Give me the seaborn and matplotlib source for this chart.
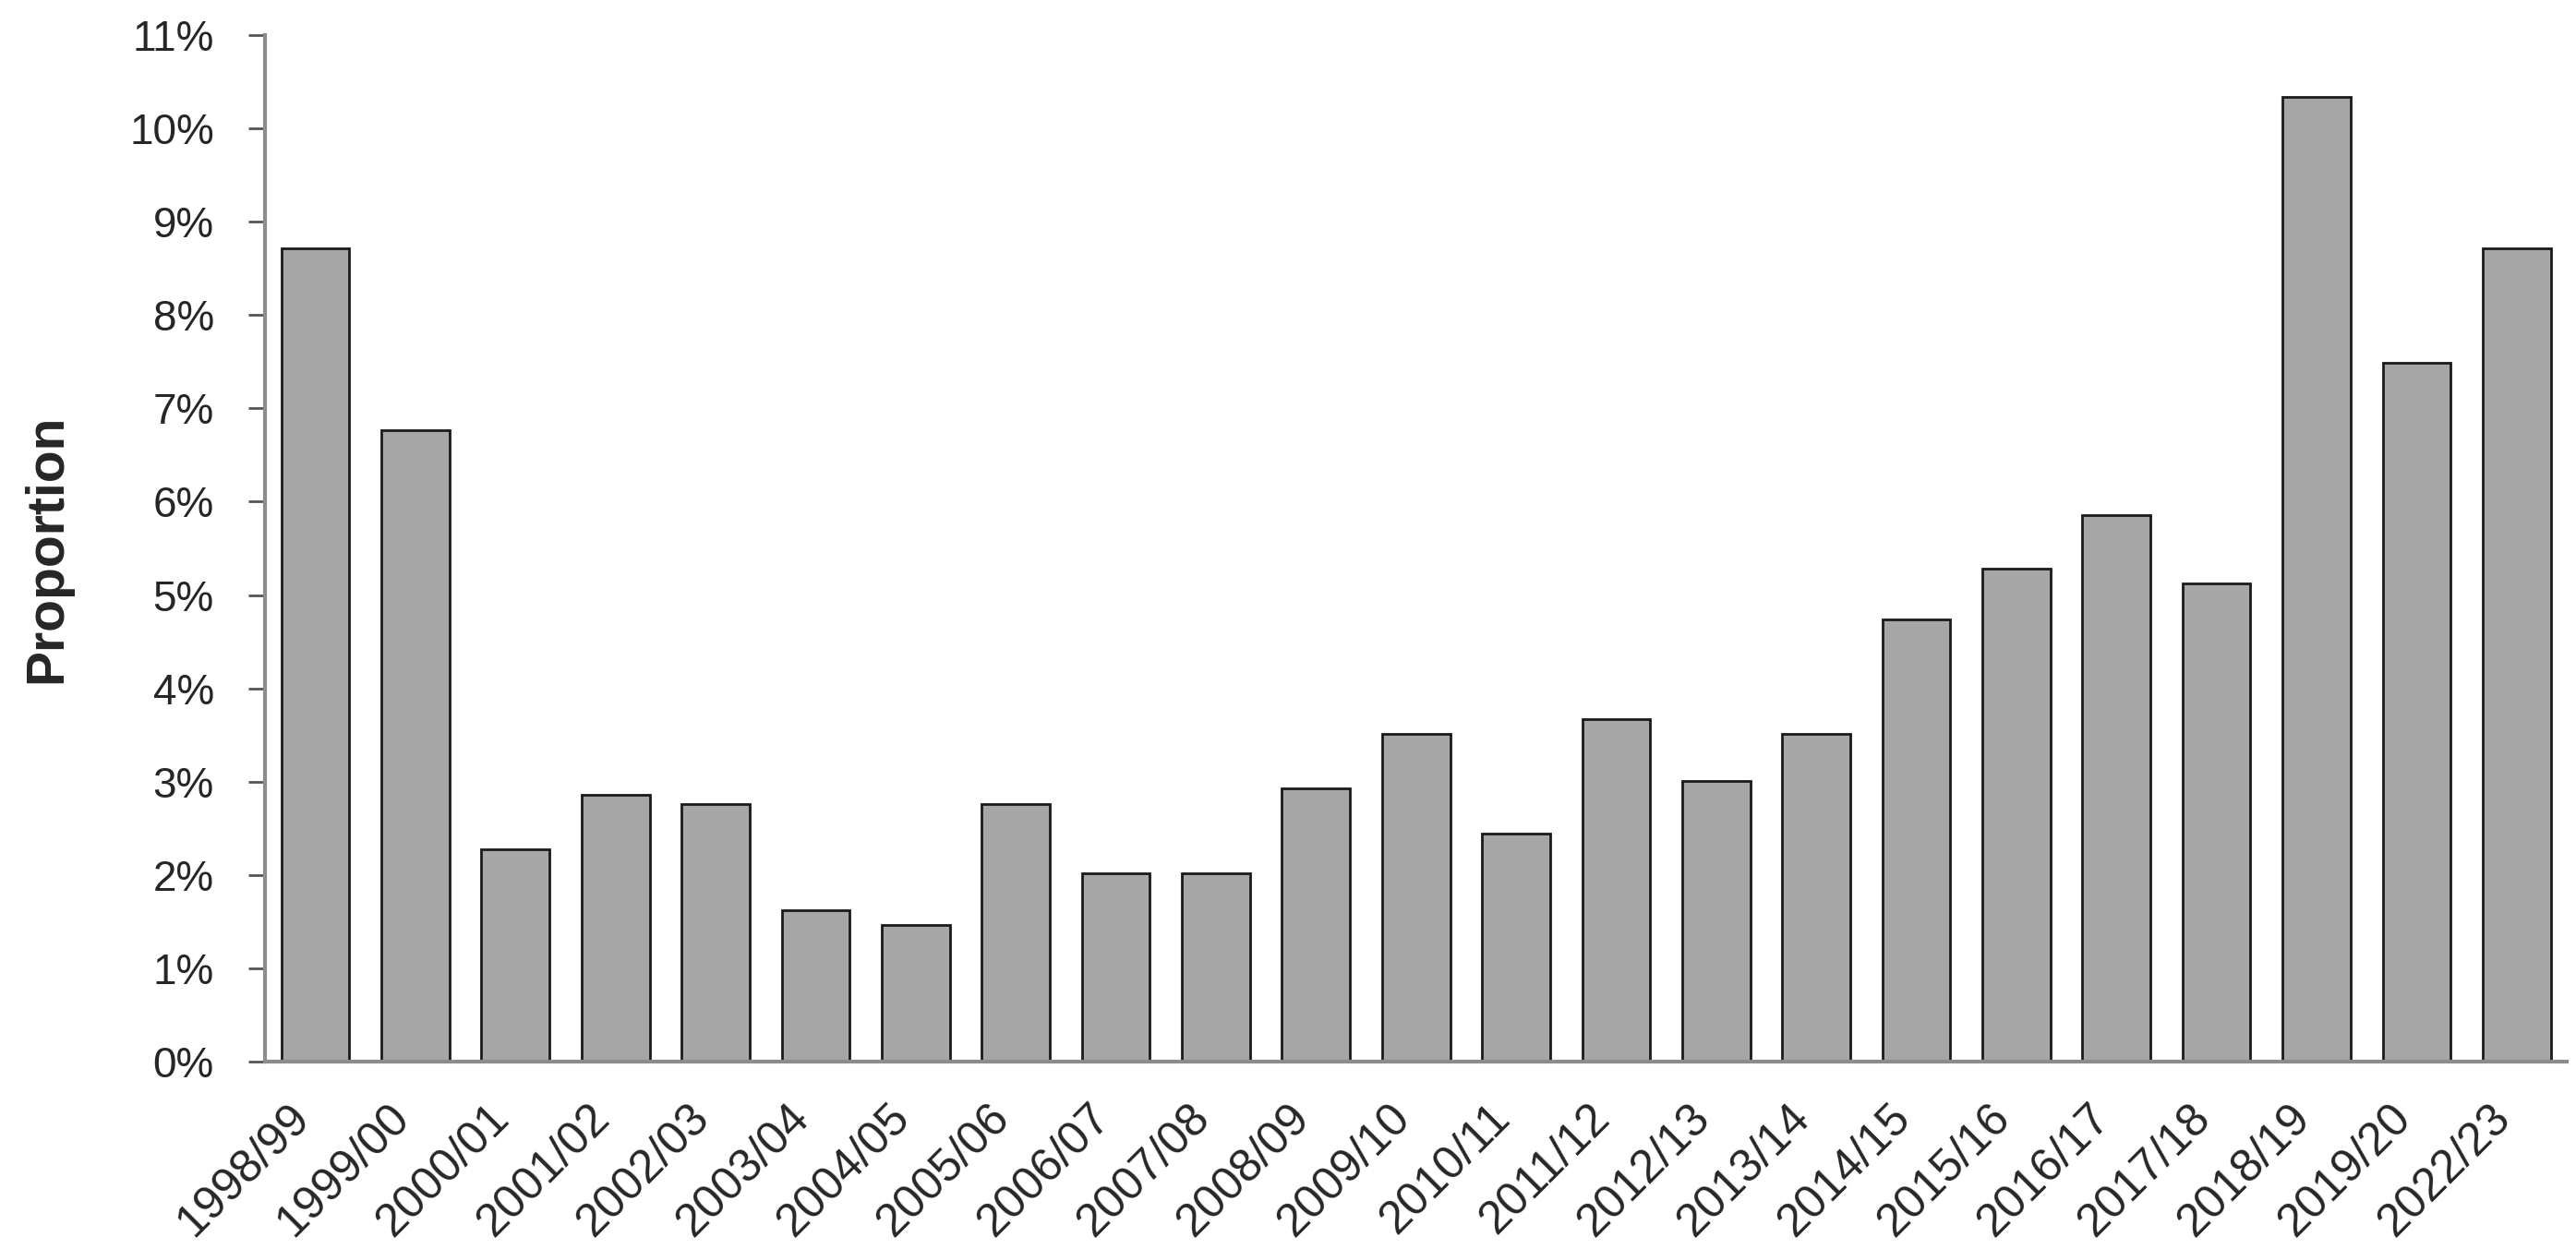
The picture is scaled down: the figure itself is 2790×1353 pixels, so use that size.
import pandas as pd
import numpy as np
import seaborn as sns
import matplotlib.pyplot as plt
import matplotlib.transforms as mtransforms
from matplotlib.ticker import FuncFormatter

# data
years = ["1998/99", "1999/00", "2000/01", "2001/02", "2002/03", "2003/04",
         "2004/05", "2005/06", "2006/07", "2007/08", "2008/09", "2009/10",
         "2010/11", "2011/12", "2012/13", "2013/14", "2014/15", "2015/16",
         "2016/17", "2017/18", "2018/19", "2019/20", "2022/23"]
proportion = [8.71, 6.77, 2.28, 2.86, 2.76, 1.62,
              1.46, 2.76, 2.02, 2.02, 2.93, 3.51,
              2.44, 3.67, 3.01, 3.51, 4.74, 5.28,
              5.86, 5.12, 10.34, 7.49, 8.71]

df = pd.DataFrame({"Year": years, "Proportion": proportion})

sns.set_style("white")
plt.rcParams['font.family'] = ['Liberation Sans', 'DejaVu Sans']

fig, ax = plt.subplots(figsize = (27.9, 13.53), dpi = 100)
fig.subplots_adjust(left = 0.103, right = 0.9964, top = 0.972, bottom = 0.150)

sns.barplot(data = df, x = "Year", y = "Proportion", color = "#a6a6a6",
            saturation = 1, width = 0.68, edgecolor = "#1a1a1a", linewidth = 2, ax = ax)

ax.set_ylim(0, 11)
ax.set_xlim(-0.5, len(years) - 0.5)
ax.set_yticks(np.arange(0, 12, 1))
ax.yaxis.set_major_formatter(FuncFormatter(lambda v, p: f"{v:.0f}%"))

# spines and ticks
sns.despine(ax = ax)
for s in ["left", "bottom"]:
    ax.spines[s].set_color("#8c8c8c")
    ax.spines[s].set_linewidth(3)
ax.tick_params(axis = "y", length = 13, width = 2, color = "#555555",
               labelsize = 33, pad = 27, left = True)
ax.tick_params(axis = "x", length = 0, labelsize = 36, pad = 27)

# rotated year labels, nudged left so they end under the bar centre
shift = mtransforms.ScaledTranslation(-0.3, 0, fig.dpi_scale_trans)
for lbl in ax.get_xticklabels():
    lbl.set_rotation(45)
    lbl.set_ha("right")
    lbl.set_rotation_mode("anchor")
    lbl.set_transform(lbl.get_transform() + shift)

ax.set_xlabel("")
ax.set_ylabel("Proportion", fontsize = 41, fontweight = "bold")
ax.yaxis.set_label_coords(-0.084, 0.5)

plt.savefig("out.png", dpi = 100)
